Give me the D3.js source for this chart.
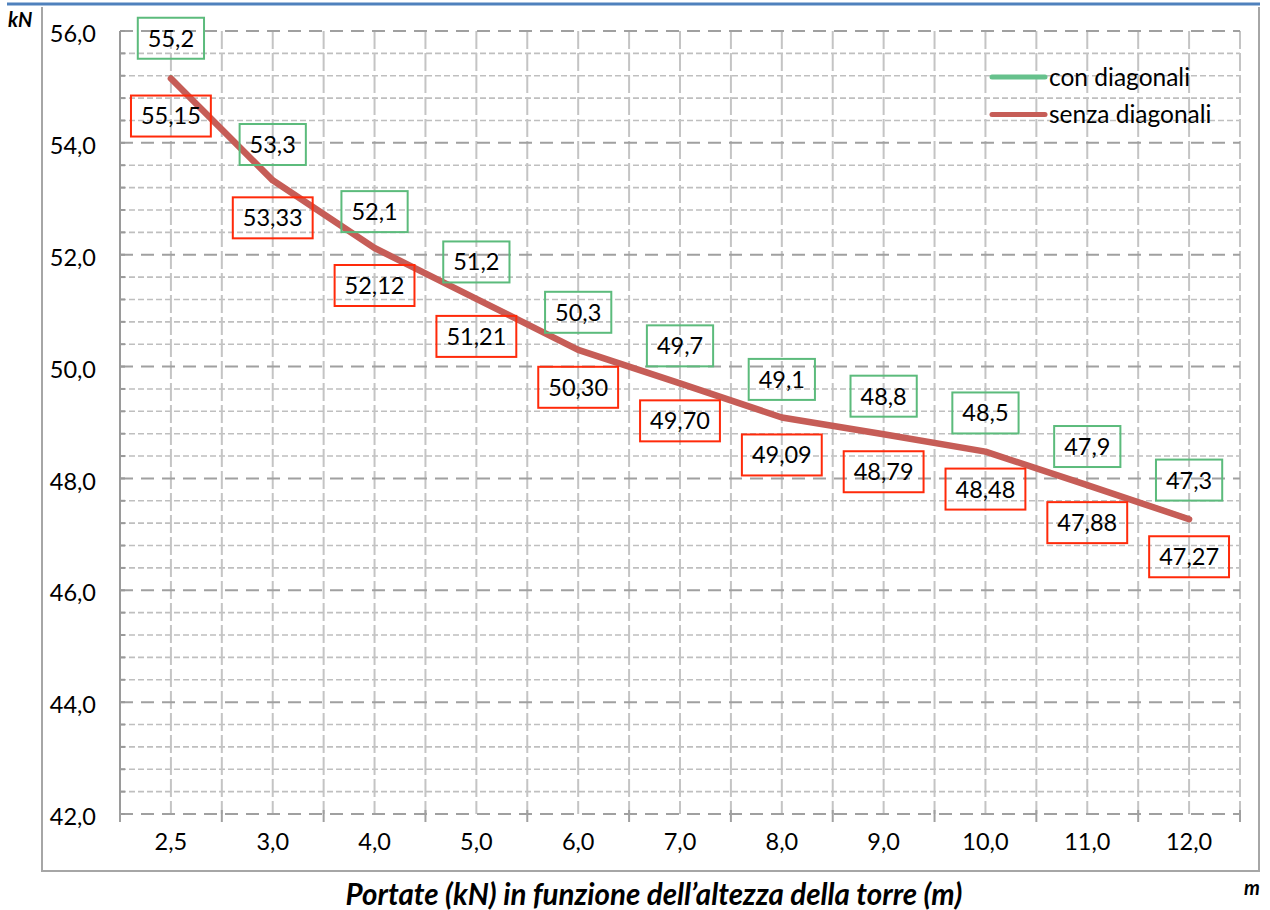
<!DOCTYPE html>
<html>
<head>
<meta charset="utf-8">
<script src="https://cdn.jsdelivr.net/npm/d3@7"></script>
<style>
  html, body { margin: 0; padding: 0; background: #ffffff; }
  svg { display: block; font-family: Lato, "Open Sans", sans-serif; }
</style>
</head>
<body>
<svg id="chart" width="1270" height="910"></svg>
<script>
// ---- data ----
const categories = ["2,5", "3,0", "4,0", "5,0", "6,0", "7,0", "8,0", "9,0", "10,0", "11,0", "12,0"];
const conDiagonali = [55.2, 53.3, 52.1, 51.2, 50.3, 49.7, 49.1, 48.8, 48.5, 47.9, 47.3];
const senzaDiagonali = [55.15, 53.33, 52.12, 51.21, 50.30, 49.70, 49.09, 48.79, 48.48, 47.88, 47.27];
const yTicks = [42, 44, 46, 48, 50, 52, 54, 56];
const seriesNames = ["con diagonali", "senza diagonali"];
const yUnit = "kN";
const xUnit = "m";
const title = "Portate (kN) in funzione dell\u2019altezza della torre (m)";

// ---- layout ----
const svg = d3.select("#chart");
const plot = { left: 120, right: 1240, top: 31, bottom: 814 };
const frame = { left: 42, right: 1259, top: 5, bottom: 871 };

const itLocale = d3.formatLocale({ decimal: ",", thousands: ".", grouping: [3], currency: ["", "\u20ac"] });
const f1 = itLocale.format(".1f");
const f2 = itLocale.format(".2f");

const x = d3.scaleBand().domain(categories).range([plot.left, plot.right]).padding(0);
const y = d3.scaleLinear().domain([42, 56]).range([plot.bottom, plot.top]);
const bw = x.bandwidth();
const cx = c => x(c) + bw / 2;

// ---- frame ----
svg.append("line").attr("x1", 7).attr("x2", 1260).attr("y1", 4).attr("y2", 4)
  .attr("stroke", "#4f81bd").attr("stroke-width", 3);
svg.append("path")
  .attr("d", `M${frame.left},${frame.top + 2}V${frame.bottom}H${frame.right}V${frame.top + 2}`)
  .attr("fill", "none").attr("stroke", "#a6a6a6").attr("stroke-width", 2);

// ---- grid ----
const grid = svg.append("g");
const minorTicks = d3.range(42, 56.001, 0.4).map(v => +v.toFixed(1)).filter(v => Math.abs(v / 2 - Math.round(v / 2)) > 1e-6);
grid.selectAll("line.minor").data(minorTicks).join("line")
  .attr("x1", plot.left).attr("x2", plot.right)
  .attr("y1", d => y(d)).attr("y2", d => y(d))
  .attr("stroke", "#bfbfbf").attr("stroke-width", 1.6).attr("stroke-dasharray", "6,3");

// vertical grid at band edges and centres
const vPositions = [];
categories.forEach(c => { vPositions.push(x(c)); vPositions.push(cx(c)); });
vPositions.push(plot.right);
grid.selectAll("line.v").data(vPositions.slice(1)).join("line")
  .attr("x1", d => d).attr("x2", d => d)
  .attr("y1", plot.top).attr("y2", plot.bottom)
  .attr("stroke", "#c4c4c4").attr("stroke-width", 2).attr("stroke-dasharray", "18,4");

grid.selectAll("line.major").data(yTicks).join("line")
  .attr("x1", plot.left).attr("x2", plot.right)
  .attr("y1", d => y(d)).attr("y2", d => y(d))
  .attr("stroke", "#a0a0a0").attr("stroke-width", 2).attr("stroke-dasharray", "13,8");

// ---- axes ----
const yAxis = d3.axisLeft(y).tickValues(yTicks).tickSize(0).tickPadding(0).tickFormat(f1);
const gy = svg.append("g").attr("transform", `translate(96,0)`).call(yAxis);
gy.select(".domain").remove();
gy.selectAll("text").attr("font-size", 23.5).attr("fill", "#000").attr("dy", "0.45em").attr("font-family", "Lato");

svg.append("line").attr("x1", plot.left).attr("x2", plot.left).attr("y1", plot.top).attr("y2", plot.bottom + 8)
  .attr("stroke", "#9a9a9a").attr("stroke-width", 2);
svg.selectAll("line.ytick").data(d3.range(42, 56.001, 0.4)).join("line")
  .attr("x1", plot.left).attr("x2", plot.left + 5)
  .attr("y1", d => y(d)).attr("y2", d => y(d))
  .attr("stroke", "#9a9a9a").attr("stroke-width", 2);

const xAxis = d3.axisBottom(x).tickSize(0).tickPadding(0);
const gx = svg.append("g").attr("transform", `translate(0,${plot.bottom})`).call(xAxis);
gx.select(".domain").remove();
gx.selectAll("text").attr("font-size", 23.5).attr("fill", "#000").attr("dy", "1.52em").attr("font-family", "Lato");
svg.selectAll("line.xtick").data(categories.map(c => x(c)).concat([plot.right])).join("line")
  .attr("x1", d => d).attr("x2", d => d)
  .attr("y1", plot.bottom - 4).attr("y2", plot.bottom + 8)
  .attr("stroke", "#a0a0a0").attr("stroke-width", 2);

// ---- lines ----
const line = d3.line().x((d, i) => cx(categories[i])).y(d => y(d));
svg.append("path").datum(conDiagonali).attr("d", line)
  .attr("fill", "none").attr("stroke", "#66c18c").attr("stroke-width", 2.5)
  .attr("stroke-linecap", "round").attr("stroke-linejoin", "round");
svg.append("path").datum(senzaDiagonali).attr("d", line)
  .attr("fill", "none").attr("stroke", "#c65d57").attr("stroke-width", 6.5)
  .attr("stroke-linecap", "round").attr("stroke-linejoin", "round");

// ---- data labels ----
function labels(values, fmt, offset, color) {
  const g = svg.append("g");
  values.forEach((v, i) => {
    const lx = cx(categories[i]);
    const ly = y(v) + offset;
    const t = g.append("text").attr("x", lx).attr("y", ly).attr("text-anchor", "middle")
      .attr("dy", "0.36em").attr("font-size", 23.5).attr("font-family", "Lato").attr("fill", "#000").text(fmt(v));
    const w = t.node().getComputedTextLength() + 20;
    g.insert("rect", "text").attr("x", lx - w / 2).attr("y", ly - 20.5).attr("width", w).attr("height", 41)
      .attr("fill", "none").attr("stroke", color).attr("stroke-width", 2);
  });
}
labels(conDiagonali, f1, -37.5, "#5cbb7c");
labels(senzaDiagonali, f2, 37.5, "#ff2a0a");

// ---- legend ----
const legendColors = ["#66c18c", "#c65d57"];
const lg = svg.append("g");
seriesNames.forEach((n, i) => {
  const ly = 77 + i * 37.5;
  lg.append("line").attr("x1", 992).attr("x2", 1045).attr("y1", ly).attr("y2", ly)
    .attr("stroke", legendColors[i]).attr("stroke-width", 5).attr("stroke-linecap", "round");
  lg.append("text").attr("x", 1049).attr("y", ly).attr("dy", "0.36em").attr("font-size", 24.5)
    .attr("font-family", "Lato").attr("fill", "#000").text(n);
});

// ---- titles ----
svg.append("text").attr("x", 8).attr("y", 27).attr("font-size", 20).attr("font-weight", "bold")
  .attr("font-style", "italic").attr("font-family", "Lato").text(yUnit);
svg.append("text").attr("x", 1244).attr("y", 895).attr("font-size", 20).attr("font-weight", "bold")
  .attr("font-style", "italic").attr("font-family", "Lato").text(xUnit);
svg.append("text").attr("x", 654).attr("y", 905).attr("text-anchor", "middle").attr("font-size", 29.5)
  .attr("font-weight", "bold").attr("font-style", "italic").attr("font-family", "Lato").text(title);
</script>
</body>
</html>
